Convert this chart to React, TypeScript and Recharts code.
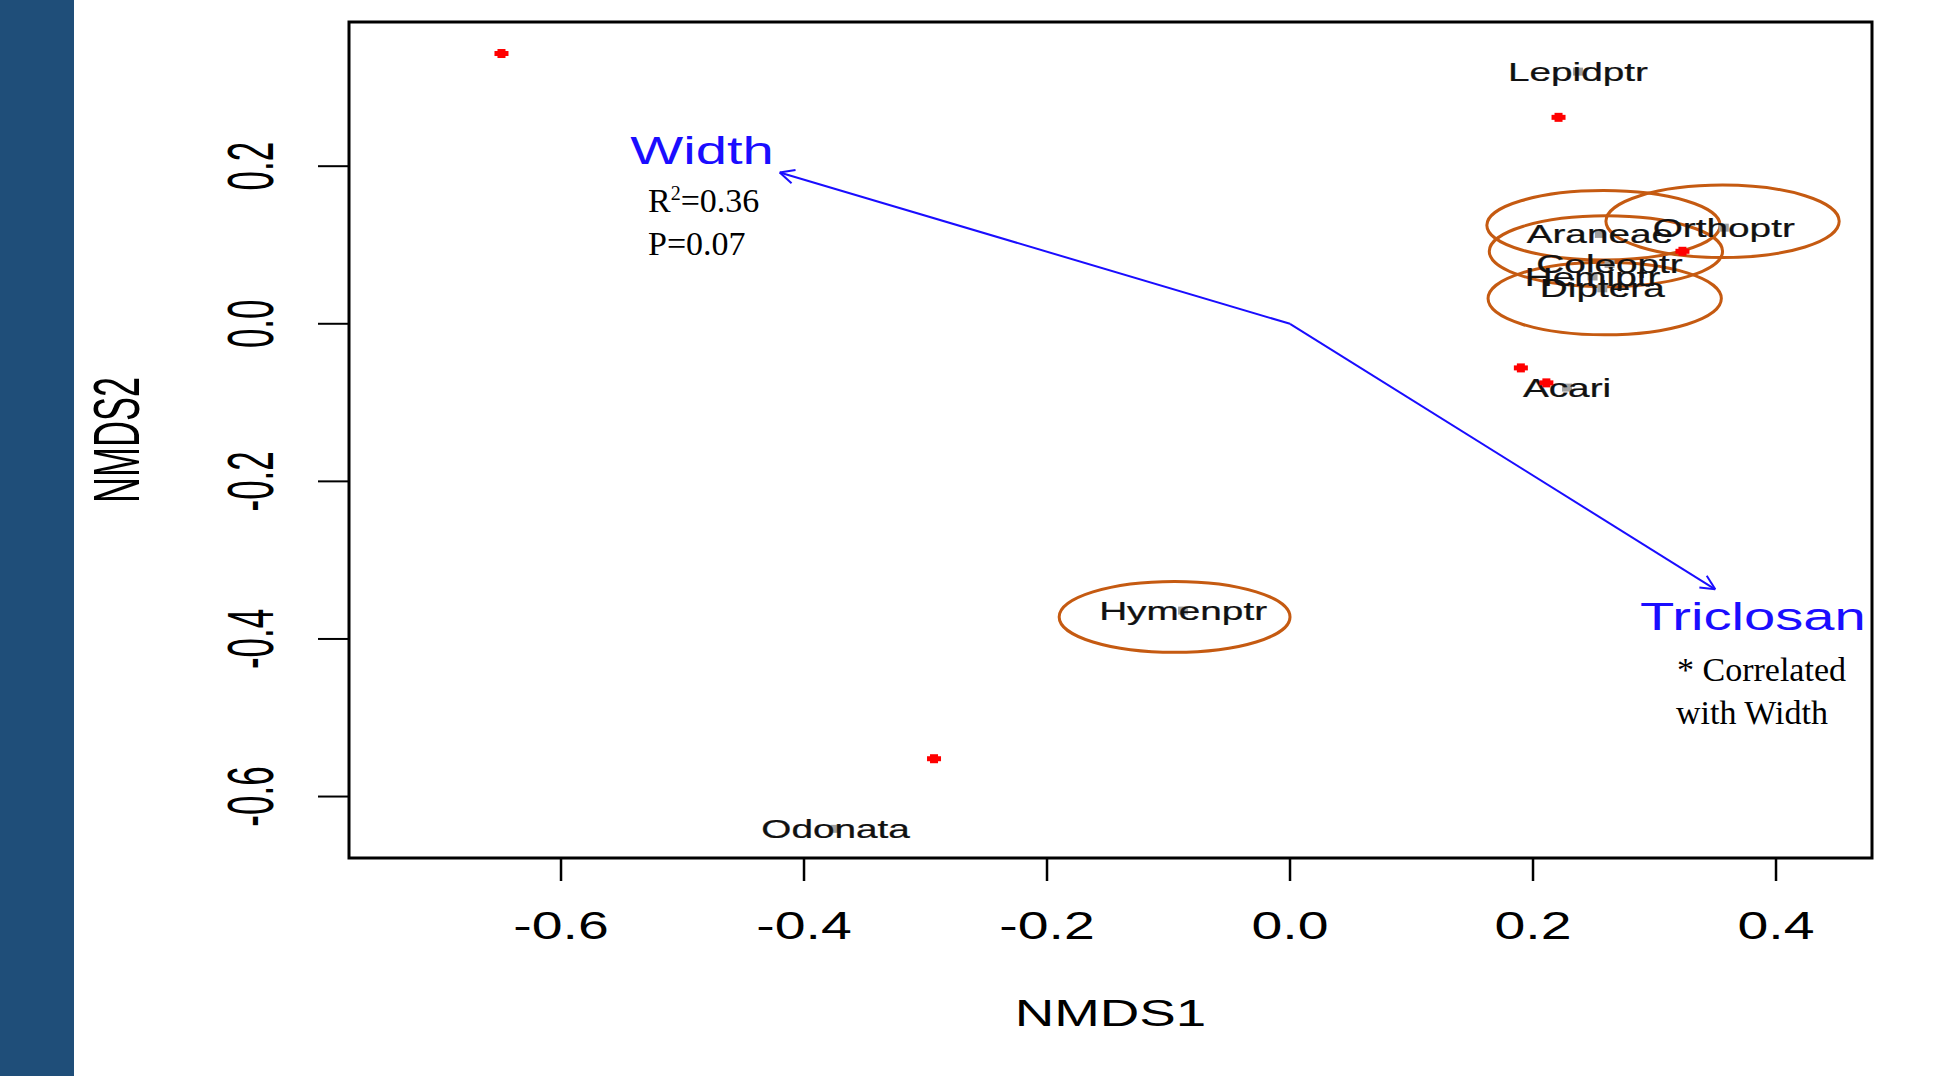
import React from 'react';
import {
  ScatterChart,
  Scatter,
  XAxis,
  YAxis,
  ReferenceArea,
  ReferenceLine
} from 'recharts';

// axis ranges and ticks
const xDomain = [-0.7745, 0.479];
const yDomain = [-0.678, 0.383];
const xTicks = [-0.6, -0.4, -0.2, 0, 0.2, 0.4];
const yTicks = [-0.6, -0.4, -0.2, 0, 0.2];

// site scores (red points)
const siteX = [-0.649, 0.221, 0.323, 0.19, 0.211, -0.293];
const siteY = [0.343, 0.262, 0.092, -0.056, -0.075, -0.552];

// taxa labels (centroids)
const taxa = ['Lepidptr', 'Araneae', 'Orthoptr', 'Coleoptr', 'Hemiptr', 'Diptera', 'Acari', 'Hymenptr', 'Odonata'];
const taxaX = [0.237, 0.255, 0.357, 0.263, 0.249, 0.257, 0.228, -0.088, -0.374];
const taxaY = [0.32, 0.114, 0.122, 0.076, 0.06, 0.045, -0.081, -0.364, -0.641];

// ellipses around groups
const ellipseGroups = ['Araneae', 'Orthoptr', 'Coleoptr', 'Diptera', 'Hymenptr'];
const ellipseX = [0.258, 0.356, 0.26, 0.259, -0.095];
const ellipseY = [0.125, 0.13, 0.092, 0.032, -0.372];
const ellipseRx = [0.096, 0.096, 0.096, 0.096, 0.095];
const ellipseRy = [0.044, 0.046, 0.045, 0.046, 0.045];

// envfit vectors
const vectors = ['Width', 'Triclosan'];
const vectorX = [-0.42, 0.35];
const vectorY = [0.192, -0.337];
const vectorLabelX = [-0.484, 0.381];
const vectorLabelY = [0.22, -0.371];

const SANS = '"Liberation Sans", Arial, sans-serif';
const SERIF = '"Liberation Serif", "Times New Roman", serif';
const BLUE = '#1a0dff';
const ELLIPSE = '#c55a11';

const siteData = siteX.map((x, i) => ({ x, y: siteY[i] }));
const taxaData = taxa.map((name, i) => ({ x: taxaX[i], y: taxaY[i], name }));
const vectorLabelData = vectors.map((name, i) => ({ x: vectorLabelX[i], y: vectorLabelY[i], name }));

const XTick = (props: any) => {
  const { x, y, payload } = props;
  return (
    <text
      transform={`translate(${x},${y + 58}) scale(1.42,1)`}
      textAnchor="middle"
      fontFamily={SANS}
      fontSize={39}
      fill="#000"
    >
      {Number(payload.value).toFixed(1)}
    </text>
  );
};

const YTick = (props: any) => {
  const { x, y, payload } = props;
  return (
    <text
      transform={`translate(${x - 68},${y}) scale(1.85,1) rotate(-90)`}
      textAnchor="middle"
      dy="0.36em"
      fontFamily={SANS}
      fontSize={35}
      fill="#000"
    >
      {Number(payload.value).toFixed(1)}
    </text>
  );
};

// small red "plus" markers like R's pch on a stretched png
const SitePoint = (props: any) => (
  <g fill="#ff0000">
    <rect x={props.cx - 7} y={props.cy - 2.5} width={14} height={5} />
    <rect x={props.cx - 4} y={props.cy - 4.5} width={8} height={9} />
  </g>
);

const TaxonLabel = (props: any) => {
  const { cx, cy, payload } = props;
  return (
    <g>
      <rect x={cx - 5} y={cy - 4} width={10} height={8} fill="#a0a0a0" />
      <text
        transform={`translate(${cx},${cy}) scale(1.55,1)`}
        textAnchor="middle"
        dy="0.36em"
        fontFamily={SANS}
        fontSize={25}
        fill="#111"
        stroke="#111"
        strokeWidth={0.25}
      >
        {payload.name}
      </text>
    </g>
  );
};

const VectorLabel = (props: any) => {
  const { cx, cy, payload } = props;
  return (
    <text
      transform={`translate(${cx},${cy}) scale(1.44,1)`}
      textAnchor="middle"
      dy="0.36em"
      fontFamily={SANS}
      fontSize={39}
      fill={BLUE}
    >
      {payload.name}
    </text>
  );
};

const EllipseShape = (props: any) => {
  const { x, y, width, height } = props;
  return (
    <ellipse
      cx={x + width / 2}
      cy={y + height / 2}
      rx={Math.abs(width) / 2}
      ry={Math.abs(height) / 2}
      fill="none"
      stroke={ELLIPSE}
      strokeWidth={3}
    />
  );
};

const ArrowShape = (props: any) => {
  const { x1, y1, x2, y2 } = props;
  const a = Math.atan2(y2 - y1, x2 - x1);
  const len = 16;
  const spread = 0.45;
  return (
    <g stroke={BLUE} strokeWidth={2} fill="none">
      <line x1={x1} y1={y1} x2={x2} y2={y2} />
      <line x1={x2} y1={y2} x2={x2 - len * Math.cos(a - spread)} y2={y2 - len * Math.sin(a - spread)} />
      <line x1={x2} y1={y2} x2={x2 - len * Math.cos(a + spread)} y2={y2 - len * Math.sin(a + spread)} />
    </g>
  );
};

const XLabel = (props: any) => {
  const { viewBox } = props;
  return (
    <text
      transform={`translate(${viewBox.x + viewBox.width / 2},${viewBox.y + 168}) scale(1.48,1)`}
      textAnchor="middle"
      fontFamily={SANS}
      fontSize={37}
      fill="#000"
    >
      NMDS1
    </text>
  );
};

const YLabel = (props: any) => {
  const { viewBox } = props;
  return (
    <text
      transform={`translate(116,${viewBox.y + viewBox.height / 2}) scale(1.8,1) rotate(-90)`}
      textAnchor="middle"
      dy="0.36em"
      fontFamily={SANS}
      fontSize={36}
      fill="#000"
    >
      NMDS2
    </text>
  );
};

export default function App() {
  return (
    <div style={{ position: 'absolute', left: 0, top: 0, width: 1954, height: 1076, background: '#fff' }}>
      <div style={{ position: 'absolute', left: 0, top: 0, width: 74, height: 1076, background: '#1f4e79' }} />
      <ScatterChart width={1954} height={1076} margin={{ top: 22, right: 82, bottom: 0, left: 0 }}>
        <XAxis
          type="number"
          dataKey="x"
          domain={xDomain}
          ticks={xTicks}
          interval={0}
          allowDataOverflow
          axisLine={false}
          tickLine={{ stroke: '#000', strokeWidth: 2.5 }}
          tickSize={23}
          tickMargin={0}
          tick={<XTick />}
          height={218}
          label={<XLabel />}
        />
        <YAxis
          type="number"
          dataKey="y"
          domain={yDomain}
          ticks={yTicks}
          interval={0}
          allowDataOverflow
          axisLine={false}
          tickLine={{ stroke: '#000', strokeWidth: 2 }}
          tickSize={31}
          tickMargin={0}
          tick={<YTick />}
          width={349}
          label={<YLabel />}
        />
        <ReferenceArea
          x1={xDomain[0]}
          x2={xDomain[1]}
          y1={yDomain[0]}
          y2={yDomain[1]}
          ifOverflow="visible"
          fill="none"
          stroke="#000"
          strokeWidth={3}
        />
        {ellipseGroups.map((g, i) => (
          <ReferenceArea
            key={g}
            x1={ellipseX[i] - ellipseRx[i]}
            x2={ellipseX[i] + ellipseRx[i]}
            y1={ellipseY[i] - ellipseRy[i]}
            y2={ellipseY[i] + ellipseRy[i]}
            ifOverflow="visible"
            shape={EllipseShape}
          />
        ))}
        {vectors.map((v, i) => (
          <ReferenceLine
            key={v}
            segment={[{ x: 0, y: 0 }, { x: vectorX[i], y: vectorY[i] }]}
            ifOverflow="visible"
            shape={ArrowShape}
          />
        ))}
        <Scatter data={taxaData} shape={TaxonLabel} isAnimationActive={false} />
        <Scatter data={siteData} shape={SitePoint} isAnimationActive={false} />
        <Scatter data={vectorLabelData} shape={VectorLabel} isAnimationActive={false} />
      </ScatterChart>
      <svg
        width={1954}
        height={1076}
        style={{ position: 'absolute', left: 0, top: 0, pointerEvents: 'none' }}
      >
        <g fontFamily={SERIF} fontSize={34} fill="#000">
          <text x={648} y={212}>
            R<tspan dy={-12} fontSize={20}>2</tspan>
            <tspan dy={12}>=0.36</tspan>
          </text>
          <text x={648} y={255}>P=0.07</text>
          <text x={1677} y={681}>* Correlated</text>
          <text x={1676} y={724}>with Width</text>
        </g>
      </svg>
    </div>
  );
}
